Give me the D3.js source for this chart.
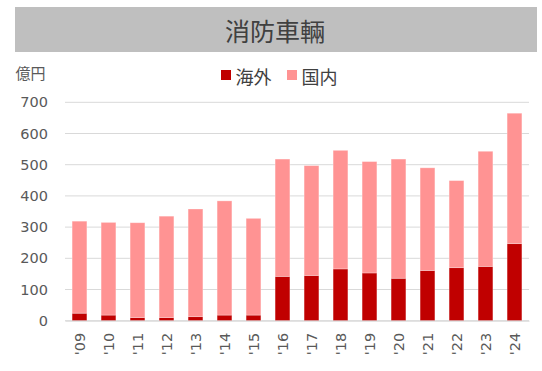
<!DOCTYPE html>
<html><head><meta charset="utf-8">
<script src="https://cdn.jsdelivr.net/npm/d3@7"></script>
<style>body{margin:0;background:#fff;} svg{display:block;}</style>
</head><body>
<svg id="chart" width="542" height="371"></svg>
<script>
const categories = ["'09","'10","'11","'12","'13","'14","'15","'16","'17","'18","'19","'20","'21","'22","'23","'24"];
const overseas = [24,18,10,10,13,18,18,142,145,166,153,136,161,170,174,247];
const domestic = [295,297,304,325,345,366,310,376,352,380,357,382,329,279,369,418];
const seriesNames = ["海外","国内"];
const seriesColors = ["#c00000","#ff9393"];
const yTicks = [0,100,200,300,400,500,600,700];
const title = "消防車輛";
const unit = "億円";

const svg = d3.select("#chart");
const margin = {left:65, right:13, top:102.3, bottom:50.3};
const W = 542, H = 371;
const x = d3.scaleBand().domain(categories).range([margin.left, W - margin.right]).paddingInner(0.49).paddingOuter(0.245);
const y = d3.scaleLinear().domain([0,700]).range([H - margin.bottom, margin.top]);

// title banner
svg.append("rect").attr("x",15).attr("y",7).attr("width",522).attr("height",45).attr("fill","#bfbfbf");
svg.append("text").attr("x",275).attr("y",30).attr("text-anchor","middle").attr("dominant-baseline","central")
  .attr("font-family","'Noto Sans CJK JP'").attr("font-size",25).attr("fill","#404040").text(title);

// unit
svg.append("text").attr("x",15.5).attr("y",72.5).attr("dominant-baseline","central")
  .attr("font-family","'Noto Sans CJK JP'").attr("font-size",15).attr("fill","#595959").text(unit);

// legend
const leg = svg.append("g");
const legX = [221, 287];
seriesNames.forEach((n,i)=>{
  leg.append("rect").attr("x",legX[i]).attr("y",70).attr("width",10).attr("height",10).attr("fill",seriesColors[i]);
  leg.append("text").attr("x",legX[i]+14.5).attr("y",75.5).attr("dominant-baseline","central")
    .attr("font-family","'Noto Sans CJK JP'").attr("font-size",18).attr("fill","#404040").text(n);
});

// gridlines
svg.append("g").selectAll("line").data(yTicks).join("line")
  .attr("x1",margin.left).attr("x2",W-margin.right)
  .attr("y1",d=>y(d)).attr("y2",d=>y(d))
  .attr("stroke","#d9d9d9").attr("stroke-width",1);

// y axis
const yAxis = svg.append("g").attr("transform",`translate(${margin.left},0)`)
  .call(d3.axisLeft(y).tickValues(yTicks).tickSize(0).tickPadding(17));
yAxis.select(".domain").remove();
yAxis.selectAll("text").attr("font-family","'DejaVu Sans'").attr("font-size",14.5).attr("fill","#595959");

// bars
const stackData = categories.map((c,i)=>({cat:c, o:overseas[i], d:domestic[i]}));
const stack = d3.stack().keys(["o","d"])(stackData);
svg.append("g").selectAll("g").data(stack).join("g")
  .attr("fill",(d,i)=>seriesColors[i])
  .selectAll("rect").data(d=>d).join("rect")
  .attr("x",d=>x(d.data.cat)).attr("width",x.bandwidth())
  .attr("y",d=>y(d[1])).attr("height",d=>y(d[0])-y(d[1]))
  .attr("stroke","#ffffff").attr("stroke-opacity",0.35).attr("stroke-width",0.8);

// x axis
const xAxis = svg.append("g").attr("transform",`translate(0,${H-margin.bottom})`)
  .call(d3.axisBottom(x).tickSize(0).tickPadding(0));
xAxis.select(".domain").attr("stroke","#d9d9d9");
xAxis.selectAll("text").attr("font-family","'DejaVu Sans'").attr("font-size",14.5).attr("fill","#595959")
  .attr("transform","rotate(-90)").attr("text-anchor","end").attr("dy","0.35em").attr("dx","-12").attr("y",0).attr("x",0);
</script>
</body></html>
